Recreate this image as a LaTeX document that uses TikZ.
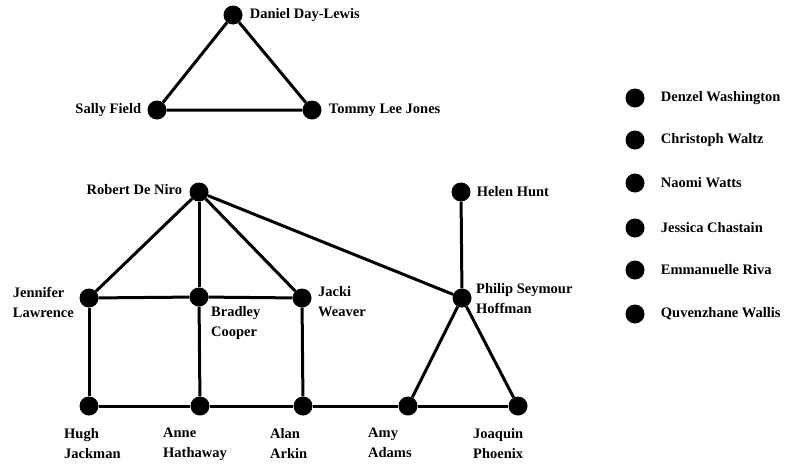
\documentclass[tikz,border=0pt]{standalone}
\usepackage{fontspec}
\setmainfont{Liberation Serif}
\usetikzlibrary{positioning}

\tikzset{
  actor/.style={circle,fill=black,inner sep=0pt,minimum size=19pt},
  castname/.style={inner sep=0pt,font=\fontsize{14.5}{20}\selectfont\bfseries,align=left},
  tie/.style={line width=3pt}
}

\begin{document}
\begin{tikzpicture}[x=1pt,y=-1pt]
  \useasboundingbox (0,0) rectangle (791,469);
  % first group
  \node[actor] (ddl) at (233,15) {};
  \node[actor] (sf) at (157,110) {};
  \node[actor] (tlj) at (312,110) {};
  % second group
  \node[actor] (rdn) at (199,192) {};
  \node[actor] (hh) at (461,192) {};
  \node[actor] (jl) at (89,298) {};
  \node[actor] (bc) at (199,297) {};
  \node[actor] (jw) at (302,298) {};
  \node[actor] (psh) at (462,298) {};
  \node[actor] (hj) at (89,406) {};
  \node[actor] (ah) at (200,406) {};
  \node[actor] (alan) at (303,406) {};
  \node[actor] (amy) at (408,406) {};
  \node[actor] (jp) at (518,406) {};
  % isolated
  \node[actor] (dw) at (635,98) {};
  \node[actor] (cw) at (635,140) {};
  \node[actor] (nw) at (635,183) {};
  \node[actor] (jc) at (635,228) {};
  \node[actor] (er) at (635,270) {};
  \node[actor] (qw) at (635,314) {};

  \draw[tie] (ddl) -- (sf) -- (tlj) -- (ddl);
  \draw[tie] (rdn) -- (jl);
  \draw[tie] (rdn) -- (bc);
  \draw[tie] (rdn) -- (jw);
  \draw[tie] (rdn) -- (psh);
  \draw[tie] (hh) -- (psh);
  \draw[tie] (jl) -- (bc) -- (jw);
  \draw[tie] (jl) -- (hj);
  \draw[tie] (bc) -- (ah);
  \draw[tie] (jw) -- (alan);
  \draw[tie] (hj) -- (ah) -- (alan) -- (amy) -- (jp);
  \draw[tie] (psh) -- (amy);
  \draw[tie] (psh) -- (jp);

  \node[castname,right=7pt of ddl] (ddlL) {Daniel Day-Lewis};
  \node[castname,left=6pt of sf] (sfL) {Sally Field};
  \node[castname,right=7pt of tlj] (tljL) {Tommy Lee Jones};
  \node[castname,left=7pt of rdn,yshift=2pt] (rdnL) {Robert De Niro};
  \node[castname,right=6pt of hh] (hhL) {Helen Hunt};
  \node[castname,anchor=east] (jlL) at (74,302) {Jennifer\\Lawrence};
  \node[castname,anchor=north west] (bcL) at (211,306) {Bradley\\Cooper};
  \node[castname,anchor=north west] (jwL) at (318,286) {Jacki\\Weaver};
  \node[castname,anchor=north west] (pshL) at (476,283) {Philip Seymour\\Hoffman};
  \node[castname,anchor=north west] (hjL) at (64,428) {Hugh\\Jackman};
  \node[castname,anchor=north west] (ahL) at (163,428) {Anne\\Hathaway};
  \node[castname,anchor=north west] (alanL) at (270,428) {Alan\\Arkin};
  \node[castname,anchor=north west] (amyL) at (368,428) {Amy\\Adams};
  \node[castname,anchor=north west] (jpL) at (473,428) {Joaquin\\Phoenix};
  \node[castname,right=16pt of dw] (dwL) {Denzel Washington};
  \node[castname,right=16pt of cw] (cwL) {Christoph Waltz};
  \node[castname,right=16pt of nw] (nwL) {Naomi Watts};
  \node[castname,right=16pt of jc] (jcL) {Jessica Chastain};
  \node[castname,right=16pt of er] (erL) {Emmanuelle Riva};
  \node[castname,right=16pt of qw] (qwL) {Quvenzhane Wallis};
\end{tikzpicture}
\end{document}
